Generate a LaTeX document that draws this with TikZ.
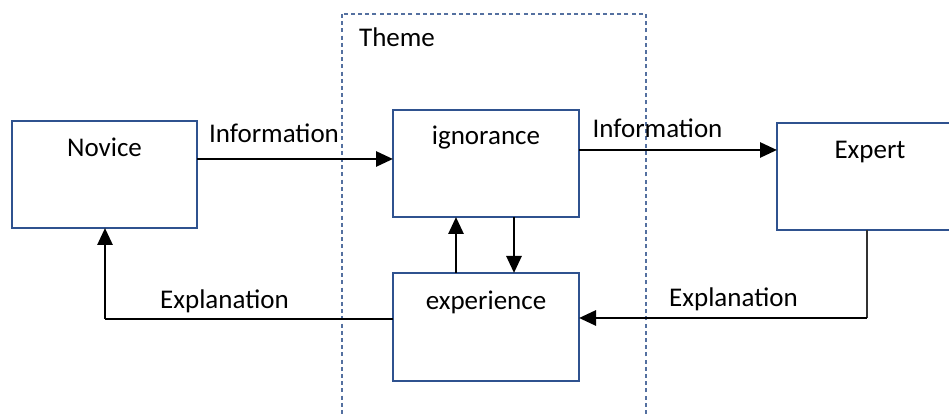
\documentclass[tikz,border=0pt]{standalone}
\usepackage{fontspec}
\setmainfont{Carlito}
\usetikzlibrary{arrows.meta,calc}
\definecolor{boxblue}{RGB}{47,82,143}
\definecolor{dashblue}{RGB}{84,112,160}
\definecolor{thingray}{RGB}{50,50,50}
\begin{document}
\begin{tikzpicture}[x=0.5pt,y=-0.5pt,
  every node/.style={font=\fontsize{13.5}{16}\selectfont},
  bx/.style={draw=boxblue,line width=0.65pt,fill=white,inner sep=0pt,minimum width=93pt,minimum height=53.5pt},
  txt/.style={anchor=base,inner sep=0pt},
  flow/.style={line width=1.4pt,-{Triangle[length=8.5pt,width=7.5pt]}},
  thinline/.style={line width=0.6pt,draw=thingray},
  theme/.style={draw=dashblue,line width=0.65pt,dash pattern=on 2pt off 1.6pt}]
\useasboundingbox (0,0) rectangle (949,415);
\clip (0,0) rectangle (949,415);
% theme frame
\draw[theme] (342,14) rectangle (646,440);
\node[txt] (themelbl) at (397,47) {Theme};
% boxes
\node[bx,minimum width=92.5pt] (nov) at (104.5,174.5) {};
\node[bx] (ign) at (486,163.5) {};
\node[bx,minimum height=54pt] (exp) at (486,327) {};
\node[bx] (xpt) at (870,176.5) {};
\node[txt] (novt) at (104.5,156.5) {Novice};
\node[txt] (ignt) at (486,145) {ignorance};
\node[txt] (expt) at (486,310) {experience};
\node[txt] (xptt) at (870,159) {Expert};
% coordinates
\coordinate (a1) at (197,159);
\coordinate (a2) at (393,159);
\coordinate (b1) at (579,150);
\coordinate (b2) at (777,150);
\coordinate (u1) at (456,273);
\coordinate (u2) at (456,217);
\coordinate (d1) at (514,217);
\coordinate (d2) at (514,273);
\coordinate (e1) at (867,230);
\coordinate (c1) at (867,318);
\coordinate (e2) at (579,318);
\coordinate (f1) at (393,319);
\coordinate (c2) at (105,319);
\coordinate (f2) at (105,228);
% connectors
\draw[flow] (a1) -- (a2);
\draw[flow] (b1) -- (b2);
\draw[flow] (u1) -- (u2);
\draw[flow] (d1) -- (d2);
\draw[thinline] (e1) -- (c1);
\draw[flow] (c1) -- (e2);
\draw[thinline,draw=black] (f1) -- (c2);
\draw[flow] (c2) -- (f2);
% labels
\node[txt] (inf1) at (274,143) {Information};
\node[txt] (inf2) at (657.5,137.5) {Information};
\node[txt] (exl1) at (224.5,309) {Explanation};
\node[txt] (exl2) at (733.5,306.5) {Explanation};
\end{tikzpicture}
\end{document}
